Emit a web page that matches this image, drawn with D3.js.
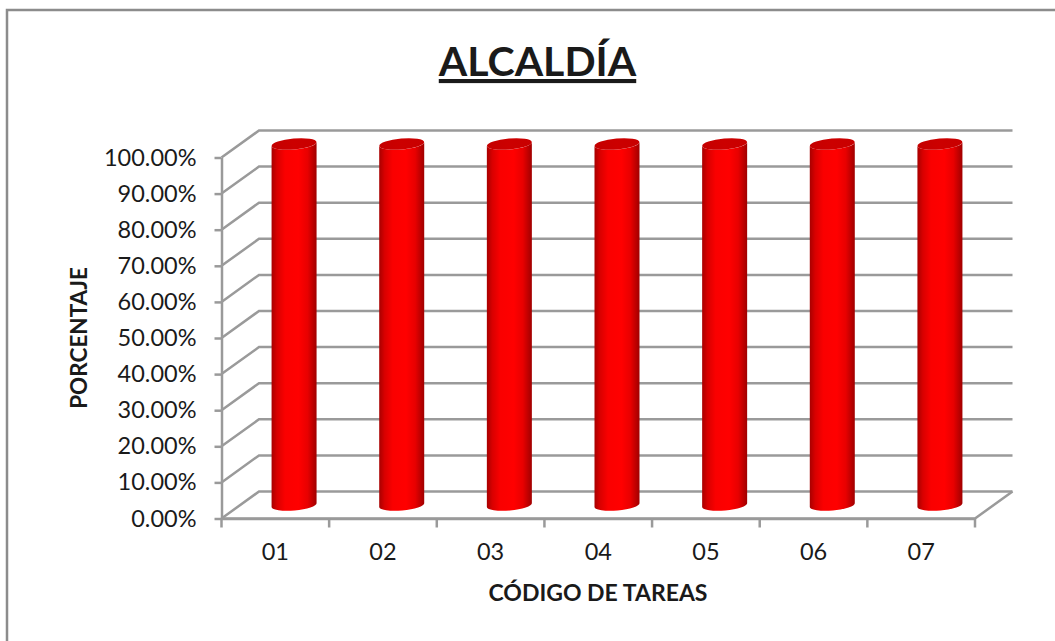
<!DOCTYPE html>
<html>
<head>
<meta charset="utf-8">
<script src="https://cdn.jsdelivr.net/npm/d3@7"></script>
<style>
  html, body { margin: 0; padding: 0; background: #fff; }
  svg { display: block; }
  text { font-family: Lato, 'Open Sans', sans-serif; fill: #1a1a1a; }
</style>
</head>
<body>
<div id="chart"></div>
<script>
const categories = ['01', '02', '03', '04', '05', '06', '07'];
const values = [100, 100, 100, 100, 100, 100, 100];
const yTicks = [0, 10, 20, 30, 40, 50, 60, 70, 80, 90, 100];

const W = 1055, H = 641;
const front = { left: 221.5, right: 975, top: 157.5, bottom: 518.5 };
const depth = { dx: 37.5, dy: -27 };
const gridColor = '#9a9a9a';

const svg = d3.select('#chart').append('svg')
  .attr('width', W)
  .attr('height', H);

const x = d3.scaleBand()
  .domain(categories)
  .range([front.left, front.right]);

const y = d3.scaleLinear()
  .domain([0, 100])
  .range([front.bottom, front.top]);

// outer frame, only top and left edges show in the picture
svg.append('path')
  .attr('d', `M7,${H}V10H${W}`)
  .attr('fill', 'none')
  .attr('stroke', '#8c8c8c')
  .attr('stroke-width', 2.5);

// cylinder shading
const defs = svg.append('defs');
const bodyGrad = defs.append('linearGradient').attr('id', 'cyl');
[[0, '#a80000'], [0.12, '#d80000'], [0.3, '#fa0000'], [0.6, '#ff0000'], [0.8, '#e80000'], [1, '#a00000']]
  .forEach(([o, c]) => bodyGrad.append('stop').attr('offset', o).attr('stop-color', c));
const capGrad = defs.append('linearGradient').attr('id', 'cap');
[[0, '#c40000'], [0.5, '#cc0000'], [1, '#c80000']]
  .forEach(([o, c]) => capGrad.append('stop').attr('offset', o).attr('stop-color', c));

// gridlines: side wall then back wall
const grid = svg.append('g').attr('fill', 'none')
  .attr('stroke', gridColor).attr('stroke-width', 2.5);

grid.selectAll('.grid')
  .data(yTicks)
  .join('path')
  .attr('class', 'grid')
  .attr('d', d => `M${front.left},${y(d)}l${depth.dx},${depth.dy}H${front.right + depth.dx}`);

// floor, right edge
grid.append('path')
  .attr('d', `M${front.left},${y(0)}H${front.right}l${depth.dx},${depth.dy}`);

// axes
const yAxis = svg.append('g')
  .attr('transform', `translate(${front.left},0)`)
  .call(d3.axisLeft(y).tickValues(yTicks).tickSize(7).tickSizeOuter(0).tickPadding(18)
    .tickFormat(d => d3.format('.2f')(d) + '%'));

const xAxis = svg.append('g')
  .attr('transform', `translate(0,${front.bottom})`)
  .call(d3.axisBottom(x).tickSize(0).tickPadding(25));

[yAxis, xAxis].forEach(a => {
  a.selectAll('path.domain').attr('stroke', gridColor).attr('stroke-width', 2.5);
  a.selectAll('line').attr('stroke', gridColor).attr('stroke-width', 2.5);
  a.selectAll('text').attr('font-size', 23.5).style('font-family', 'Lato, sans-serif').attr('fill', '#1a1a1a');
});

// category ticks sit on the band edges
xAxis.selectAll('.edge')
  .data(categories.concat(['end']))
  .join('line')
  .attr('class', 'edge')
  .attr('x1', (d, i) => i < categories.length ? x(d) : front.right)
  .attr('x2', (d, i) => i < categories.length ? x(d) : front.right)
  .attr('y1', 0)
  .attr('y2', 9)
  .attr('stroke', gridColor)
  .attr('stroke-width', 2.5);

// cylinders stand half way into the depth
const rx = 22.5, ry = 5.5, tilt = -5;
const barX = d => x(d) + x.bandwidth() / 2 + depth.dx / 2;
const barY = v => y(v) + depth.dy / 2;
const sideDy = 2;

const bars = svg.append('g').selectAll('g')
  .data(categories.map((c, i) => ({ cat: c, val: values[i] })))
  .join('g');

bars.append('path')
  .attr('fill', 'url(#cyl)')
  .attr('d', d => {
    const cx = barX(d.cat), top = barY(d.val), bot = barY(0);
    return `M${cx - rx},${top + sideDy}L${cx - rx},${bot + sideDy}` +
      `A${rx},${ry} ${tilt} 0 0 ${cx + rx},${bot - sideDy}` +
      `L${cx + rx},${top - sideDy}` +
      `A${rx},${ry} ${tilt} 0 1 ${cx - rx},${top + sideDy}Z`;
  });

bars.append('ellipse')
  .attr('fill', 'url(#cap)')
  .attr('rx', rx)
  .attr('ry', ry)
  .attr('transform', d => `translate(${barX(d.cat)},${barY(d.val)}) rotate(${tilt})`);

// titles
svg.append('text')
  .attr('x', 537.5)
  .attr('y', 76)
  .attr('text-anchor', 'middle')
  .attr('font-size', 41)
  .attr('font-weight', 700)
  .attr('text-decoration', 'underline')
  .text('ALCALDÍA');

svg.append('text')
  .attr('x', 598)
  .attr('y', 601)
  .attr('text-anchor', 'middle')
  .attr('font-size', 23)
  .attr('font-weight', 700)
  .text('CÓDIGO DE TAREAS');

svg.append('text')
  .attr('transform', 'translate(87,338) rotate(-90)')
  .attr('text-anchor', 'middle')
  .attr('font-size', 22.5)
  .attr('font-weight', 700)
  .text('PORCENTAJE');
</script>
</body>
</html>
